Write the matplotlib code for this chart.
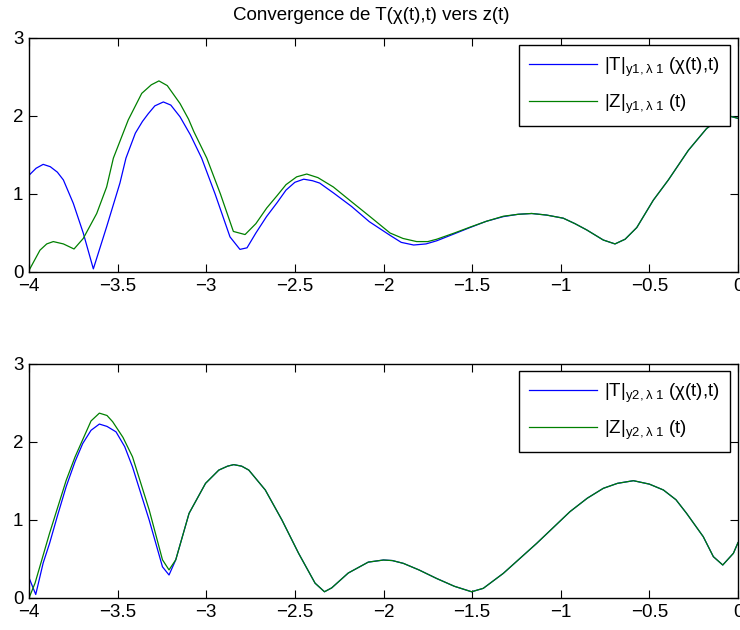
import matplotlib
matplotlib.use('Agg')
import matplotlib.pyplot as plt
from matplotlib.ticker import FixedLocator, FuncFormatter

plt.rcParams['font.family'] = ['Liberation Sans', 'DejaVu Sans']
plt.rcParams['mathtext.fontset'] = 'custom'
plt.rcParams['mathtext.rm'] = 'Liberation Sans'
plt.rcParams['mathtext.it'] = 'Liberation Sans:italic'
plt.rcParams['mathtext.bf'] = 'Liberation Sans:bold'

# first component (y1)
t1_T = [-4.0, -3.96, -3.92, -3.88, -3.84, -3.806, -3.75, -3.694, -3.637, -3.562,
        -3.487, -3.453, -3.40, -3.36, -3.327, -3.29, -3.242, -3.20, -3.148, -3.09,
        -3.026, -2.95, -2.866, -2.81, -2.77, -2.72, -2.66, -2.60, -2.55, -2.50,
        -2.45, -2.40, -2.36, -2.28, -2.18, -2.08, -1.963, -1.90, -1.83, -1.76,
        -1.70, -1.60, -1.512, -1.42, -1.324, -1.24, -1.164, -1.08, -0.986, -0.92,
        -0.854, -0.76, -0.694, -0.637, -0.571, -0.478, -0.393, -0.28, -0.177, -0.10,
        -0.05, 0.0]
T1 = [1.24, 1.33, 1.38, 1.35, 1.28, 1.18, 0.88, 0.50, 0.04, 0.58,
      1.14, 1.46, 1.78, 1.93, 2.03, 2.13, 2.18, 2.14, 1.99, 1.76,
      1.46, 1.0, 0.45, 0.29, 0.31, 0.50, 0.71, 0.89, 1.05, 1.15,
      1.19, 1.17, 1.14, 1.01, 0.84, 0.645, 0.47, 0.38, 0.346, 0.36,
      0.40, 0.49, 0.57, 0.65, 0.71, 0.74, 0.75, 0.73, 0.69, 0.62,
      0.54, 0.41, 0.36, 0.42, 0.57, 0.92, 1.18, 1.56, 1.84, 1.97,
      2.0, 1.97]

t1_Z = [-4.0, -3.938, -3.90, -3.863, -3.806, -3.746, -3.694, -3.618, -3.562, -3.524,
        -3.44, -3.364, -3.31, -3.267, -3.22, -3.148, -3.10, -3.07, -2.997, -2.92,
        -2.847, -2.781, -2.72, -2.659, -2.60, -2.55, -2.49, -2.433, -2.37, -2.283,
        -2.18, -2.076, -1.963, -1.89, -1.813, -1.75, -1.70, -1.60, -1.512, -1.42,
        -1.324, -1.24, -1.164, -1.08, -0.986, -0.92, -0.854, -0.76, -0.694, -0.637,
        -0.571, -0.478, -0.393, -0.28, -0.177, -0.10, -0.05, 0.0]
Z1 = [0.02, 0.28, 0.36, 0.39, 0.36, 0.295, 0.43, 0.75, 1.09, 1.46,
      1.95, 2.29, 2.40, 2.45, 2.39, 2.16, 1.96, 1.8, 1.46, 1.0,
      0.52, 0.48, 0.62, 0.82, 0.98, 1.12, 1.22, 1.256, 1.21, 1.09,
      0.90, 0.71, 0.50, 0.43, 0.39, 0.39, 0.42, 0.50, 0.575, 0.65,
      0.715, 0.74, 0.75, 0.73, 0.69, 0.62, 0.54, 0.41, 0.36, 0.42,
      0.57, 0.92, 1.18, 1.56, 1.84, 1.97, 2.0, 1.97]

# second component (y2)
t2_T = [-4.0, -3.962, -3.92, -3.884, -3.84, -3.79, -3.74, -3.697, -3.65, -3.603,
        -3.56, -3.509, -3.46, -3.416, -3.322, -3.247, -3.21, -3.172, -3.097, -3.004,
        -2.929, -2.88, -2.845, -2.80, -2.76, -2.667, -2.573, -2.479, -2.386, -2.333,
        -2.292, -2.199, -2.086, -2.0, -1.95, -1.888, -1.80, -1.70, -1.60, -1.503,
        -1.437, -1.324, -1.136, -0.948, -0.85, -0.76, -0.68, -0.59, -0.50, -0.421,
        -0.35, -0.29, -0.196, -0.139, -0.086, -0.026, 0.0]
T2 = [0.26, 0.045, 0.45, 0.70, 1.05, 1.43, 1.75, 1.98, 2.15, 2.23,
      2.20, 2.13, 1.94, 1.68, 1.0, 0.40, 0.295, 0.49, 1.085, 1.47,
      1.64, 1.69, 1.71, 1.69, 1.64, 1.385, 1.0, 0.573, 0.19, 0.08,
      0.13, 0.32, 0.46, 0.487, 0.48, 0.444, 0.36, 0.25, 0.15, 0.08,
      0.124, 0.316, 0.70, 1.107, 1.28, 1.406, 1.47, 1.504, 1.46, 1.385,
      1.26, 1.085, 0.786, 0.53, 0.423, 0.573, 0.71]

t2_Z = [-4.0, -3.966, -3.884, -3.79, -3.74, -3.697, -3.65, -3.603, -3.56, -3.528,
        -3.47, -3.416, -3.322, -3.247, -3.21, -3.172, -3.097, -3.004, -2.929, -2.88,
        -2.845, -2.80, -2.76, -2.667, -2.573, -2.479, -2.386, -2.333, -2.292, -2.199,
        -2.086, -2.0, -1.95, -1.888, -1.80, -1.70, -1.60, -1.503, -1.437, -1.324,
        -1.136, -0.948, -0.85, -0.76, -0.68, -0.59, -0.50, -0.421, -0.35, -0.29,
        -0.196, -0.139, -0.086, -0.026, 0.0]
Z2 = [0.0, 0.19, 0.83, 1.51, 1.81, 2.03, 2.27, 2.37, 2.34, 2.26,
      2.06, 1.81, 1.13, 0.49, 0.36, 0.49, 1.085, 1.47, 1.64, 1.69,
      1.71, 1.69, 1.64, 1.385, 1.0, 0.573, 0.19, 0.08, 0.13, 0.32,
      0.46, 0.487, 0.48, 0.444, 0.36, 0.25, 0.15, 0.08, 0.124, 0.316,
      0.70, 1.107, 1.28, 1.406, 1.47, 1.504, 1.46, 1.385, 1.26, 1.085,
      0.786, 0.53, 0.423, 0.573, 0.71]

x_ticks = [-4, -3.5, -3, -2.5, -2, -1.5, -1, -0.5, 0]
y_ticks = [0, 1, 2, 3]

W, H = 740, 630
fig = plt.figure(figsize=(W / 100, H / 100), dpi=100)


def fmt(v, pos):
    s = ('%g' % v).replace('-', '\u2212')
    return s


def setup(ax):
    ax.set_xlim(-4, 0)
    ax.set_ylim(0, 3)
    ax.xaxis.set_major_locator(FixedLocator(x_ticks))
    ax.yaxis.set_major_locator(FixedLocator(y_ticks))
    ax.xaxis.set_major_formatter(FuncFormatter(fmt))
    ax.yaxis.set_major_formatter(FuncFormatter(fmt))
    ax.tick_params(direction='in', top=True, right=True, length=6, width=0.8,
                   labelsize=13.5, pad=4)
    for sp in ax.spines.values():
        sp.set_linewidth(1.0)


panels = [
    (38, t1_T, T1, t1_Z, Z1, 'y1'),
    (364, t2_T, T2, t2_Z, Z2, 'y2'),
]

for top_px, tx, ty, zx, zy, comp in panels:
    ax = fig.add_axes([29 / W, 1 - (top_px + 234) / H, 709 / W, 234 / H])
    lab_T = r'$|\mathrm{T}|_{\mathrm{%s,\lambda\ 1}}$ (χ(t),t)' % comp
    lab_Z = r'$|\mathrm{Z}|_{\mathrm{%s,\lambda\ 1}}$ (t)' % comp
    ax.plot(tx, ty, color='#0000ff', lw=0.9, label=lab_T)
    ax.plot(zx, zy, color='#008000', lw=0.9, label=lab_Z)
    setup(ax)
    leg = ax.legend(loc='upper right',
                    bbox_to_anchor=(730 / W, 1 - (top_px + 7) / H),
                    bbox_transform=fig.transFigure, borderaxespad=0,
                    fontsize=13.5, handlelength=3.6, handletextpad=0.4,
                    labelspacing=0.75, borderpad=0.55, fancybox=False,
                    framealpha=1, edgecolor='black')
    leg.get_frame().set_linewidth(1.0)

fig.text(371 / W, 1 - 16 / H, 'Convergence de T(χ(t),t) vers z(t)',
         ha='center', va='center', fontsize=13.5)

fig.savefig('out.png', dpi=100)
